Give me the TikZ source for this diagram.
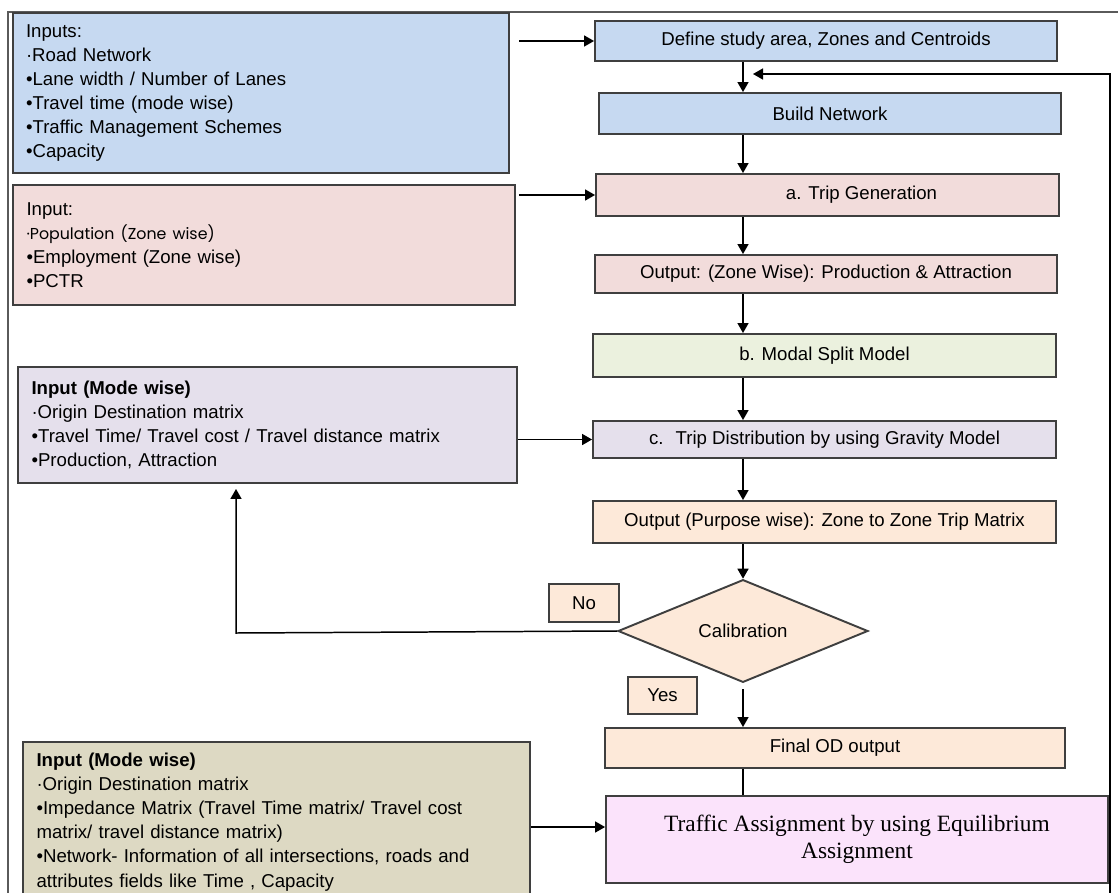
\documentclass[tikz,border=0pt]{standalone}
\usepackage{fontspec}
\setmainfont{Liberation Sans}
\newfontfamily\timesface{Liberation Serif}
\newfontfamily\gothicface{Poppins}
\usetikzlibrary{arrows.meta, positioning, calc, shapes.geometric}
\definecolor{boxblue}{HTML}{C6D9F1}
\definecolor{boxpink}{HTML}{F2DCDB}
\definecolor{boxgreen}{HTML}{EBF1DE}
\definecolor{boxlilac}{HTML}{E5E0EC}
\definecolor{boxpeach}{HTML}{FDE9D9}
\definecolor{boxkhaki}{HTML}{DDD9C3}
\definecolor{boxorchid}{HTML}{FBE3FB}
\definecolor{inkedge}{HTML}{3F3F3F}
\definecolor{inkframe}{HTML}{5A5A5A}
\newcommand{\inputbox}[6]{%
  \node[draw=inkedge, line width=1.1pt, fill=#3, text width=#4,
        minimum height=#5, inner xsep=0.27cm, align=left] (#1) at (#2) {#6};}
\newcommand{\stagebox}[6]{%
  \node[draw=inkedge, line width=1.1pt, fill=#3, minimum width=#4,
        minimum height=#5, inner sep=0pt] (#1) at (#2) {#6};}

\begin{document}
\begin{tikzpicture}[x=0.02cm, y=-0.02cm, font=\fontsize{10.6}{13.7}\selectfont,
    flow/.style={-{Triangle[length=2mm, width=2.2mm]}, line width=0.85pt},
    link/.style={line width=0.85pt}]
  \useasboundingbox (0,0) rectangle (1118,892);
  \clip (0,0) rectangle (1118,892);
  % frame of the slide
  \draw[inkframe, line width=1.1pt] (8,905) -- (8,12) -- (1125,12);

  % inputs on the left
  \inputbox{roadin}{261,93}{boxblue}{9.40cm}{3.2cm}{Inputs:\\
    ·Road Network\\ •Lane width / Number of Lanes\\ •Travel time (mode wise)\\
    •Traffic Management Schemes\\ •Capacity}
  \inputbox{popin}{264,245}{boxpink}{9.50cm}{2.4cm}{Input:\\
    {\gothicface\fontsize{9}{13.7}\selectfont ·Population (Zone wise)}\\
    •Employment (Zone wise)\\ •PCTR}
  \inputbox{modein}{267.5,425}{boxlilac}{9.44cm}{2.32cm}{\textbf{Input (Mode wise)}\\
    ·Origin Destination matrix\\ •Travel Time/ Travel cost / Travel distance matrix\\
    •Production, Attraction}
  \inputbox{assignin}{276.5,822}{boxkhaki}{9.60cm}{3.2cm}{\textbf{Input (Mode wise)}\\
    ·Origin Destination matrix\\ •Impedance Matrix (Travel Time matrix/ Travel cost\\
    matrix/ travel distance matrix)\\ •Network- Information of all intersections, roads and\\
    attributes fields like Time , Capacity}

  % model stages
  \stagebox{define}{826,41}{boxblue}{9.24cm}{0.8cm}{Define study area, Zones and Centroids}
  \stagebox{build}{830,113.5}{boxblue}{9.24cm}{0.82cm}{Build Network}
  \stagebox{tripgen}{827.5,195}{boxpink}{9.26cm}{0.84cm}{\hspace*{1.36cm}a. Trip Generation}
  \stagebox{outzone}{826,274}{boxpink}{9.24cm}{0.76cm}{Output: (Zone Wise): Production \& Attraction}
  \stagebox{modal}{824.5,355.5}{boxgreen}{9.26cm}{0.86cm}{b. Modal Split Model}
  \stagebox{tripdist}{824.5,439.5}{boxlilac}{9.26cm}{0.74cm}{c.~ Trip Distribution by using Gravity Model}
  \stagebox{outpurp}{824.5,522}{boxpeach}{9.26cm}{0.84cm}{Output (Purpose wise): Zone to Zone Trip Matrix}
  \node[diamond, draw=inkedge, line width=1.1pt, fill=boxpeach, minimum width=5cm,
        minimum height=1.84cm, inner sep=0pt] (calib) at (743,631) {Calibration};
  \stagebox{final}{835,748}{boxpeach}{9.2cm}{0.8cm}{Final OD output}
  \node[draw=inkedge, line width=1.1pt, fill=boxorchid, minimum width=10.04cm,
        minimum height=1.74cm, align=center,
        font=\timesface\fontsize{13.3}{15.3}\selectfont] (traffic) at (857,839.5)
        {Traffic Assignment by using Equilibrium\\ Assignment};
  \stagebox{nolbl}{584,603}{boxpeach}{1.4cm}{0.76cm}{No}
  \stagebox{yeslbl}{662.5,695.5}{boxpeach}{1.38cm}{0.74cm}{Yes}

  \coordinate (loopin) at (753,74);
  \coordinate (loopfoot) at (1110,905);
  \coordinate (noturn) at (236,633);

  \draw[flow] ([xshift=0.18cm]roadin.east |- define.west) -- (define.west);
  \draw[flow] ([xshift=0.06cm]popin.east |- tripgen.west) -- (tripgen.west);
  \draw[flow] (modein.east |- tripdist.west) -- (tripdist.west);
  \draw[flow] ([yshift=-0.1cm]assignin.east) -- ([yshift=-0.1cm]assignin.east -| traffic.west);
  \draw[flow] (define.south -| calib) -- (build.north -| calib);
  \draw[flow] (build.south -| calib) -- (tripgen.north -| calib);
  \draw[flow] (tripgen.south -| calib) -- (outzone.north -| calib);
  \draw[flow] (outzone.south -| calib) -- (modal.north -| calib);
  \draw[flow] (modal.south -| calib) -- (tripdist.north -| calib);
  \draw[flow] (tripdist.south -| calib) -- (outpurp.north -| calib);
  \draw[flow] (outpurp.south -| calib) -- (calib.north);
  \draw[flow] ([yshift=-0.12cm]calib.south) -- (final.north -| calib);
  \draw[link] (final.south -| calib) -- (traffic.north -| calib);
  \draw[flow] (loopfoot) |- (loopin);
  \draw[flow] (calib.west) -- (noturn) -- ([yshift=-0.1cm]noturn |- modein.south);
\end{tikzpicture}
\end{document}
